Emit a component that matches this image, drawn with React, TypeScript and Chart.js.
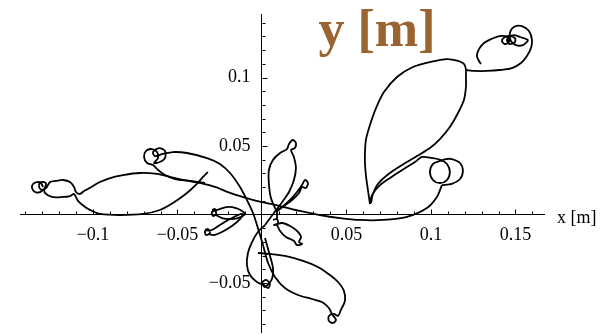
import React, { useEffect, useRef } from "react";
import { Chart, registerables } from "chart.js";

Chart.register(...registerables);

type Pt = [number, number];

// Axis extents in metres
const X_RANGE: [number, number] = [-0.1432, 0.1669];
const Y_RANGE: [number, number] = [-0.0858, 0.1464];

// Labelled (major) ticks; minor ticks every centimetre
const X_LABELED = [-0.1, -0.05, 0.05, 0.1, 0.15];
const Y_LABELED = [-0.05, 0.05, 0.1];
const MINOR_STEP = 0.01;

const X_TITLE = "x [m]";
const Y_TITLE = "y [m]";

// Trajectory pieces, [x, y] in metres
const leftKnot: Pt[] = [
  [-0.1296, 0.0201], [-0.1308, 0.023], [-0.1331, 0.0237], [-0.1355, 0.0223], [-0.1361, 0.0193],
  [-0.1343, 0.0164], [-0.1314, 0.0164], [-0.129, 0.0186], [-0.1278, 0.0223], [-0.129, 0.0237],
  [-0.1314, 0.023], [-0.1319, 0.0201], [-0.1302, 0.0179], [-0.1278, 0.0193], [-0.1254, 0.0237],
  [-0.1219, 0.0245], [-0.1177, 0.0252], [-0.1136, 0.0237], [-0.1112, 0.0201], [-0.1101, 0.0164],
  [-0.1077, 0.015], [-0.1053, 0.0172], [-0.103, 0.0186], [-0.1, 0.0208], [-0.0959, 0.0237],
  [-0.0899, 0.0266], [-0.0822, 0.0288], [-0.0722, 0.0303], [-0.0621, 0.0296], [-0.0544, 0.0274],
  [-0.0467, 0.0252], [-0.0367, 0.023],
];

const crossLine: Pt[] = [
  [-0.0367, 0.023], [-0.0278, 0.0201], [-0.0172, 0.015], [-0.0071, 0.0113], [0, 0.0091],
  [0.0107, 0.0062], [0.0225, 0.0026], [0.0343, -0.0004], [0.0462, -0.0026], [0.058, -0.004],
  [0.0716, -0.004], [0.0858, -0.0018], [0.0976, 0.0047], [0.1035, 0.0128], [0.1065, 0.0215],
];

const rightLoops: Pt[] = [
  [0.1065, 0.0215], [0.1124, 0.0223], [0.1172, 0.0259], [0.1189, 0.0318], [0.1172, 0.0376],
  [0.1124, 0.0405], [0.1089, 0.0405], [0.1053, 0.0391], [0.1012, 0.0369], [0.0994, 0.031],
  [0.1012, 0.0252], [0.1053, 0.023], [0.1095, 0.0252], [0.1112, 0.031], [0.1095, 0.0369],
  [0.1059, 0.0398], [0.1006, 0.0412], [0.0947, 0.042], [0.0905, 0.0383], [0.0858, 0.0347],
  [0.0775, 0.0281], [0.0698, 0.0215], [0.0651, 0.0142], [0.0639, 0.0077],
];

const bigLobe: Pt[] = [
  [0.0639, 0.0077], [0.0627, 0.0179], [0.0615, 0.0288], [0.0609, 0.0398], [0.0615, 0.0544],
  [0.0639, 0.0653], [0.0675, 0.0777], [0.0722, 0.0894], [0.0799, 0.1004], [0.0893, 0.1077],
  [0.0994, 0.1113], [0.1095, 0.1135], [0.116, 0.1121], [0.1195, 0.1099], [0.1207, 0.1062],
  [0.1207, 0.1018], [0.1207, 0.0931], [0.1195, 0.0836], [0.116, 0.0741], [0.1112, 0.0639],
  [0.1053, 0.0551], [0.0994, 0.0485], [0.0917, 0.0427], [0.0858, 0.0383], [0.0757, 0.0303],
  [0.0686, 0.0223], [0.0657, 0.015], [0.0645, 0.0084],
];

const topBulb: Pt[] = [
  [0.1207, 0.1055], [0.126, 0.1048], [0.1331, 0.1048], [0.1408, 0.1055], [0.1479, 0.1069],
  [0.1533, 0.1106], [0.1568, 0.1157], [0.1592, 0.1215], [0.1598, 0.1274], [0.158, 0.134],
  [0.1538, 0.1376], [0.1491, 0.1369], [0.1467, 0.1325], [0.1473, 0.1267], [0.1503, 0.1237],
  [0.1544, 0.1237], [0.1574, 0.1274], [0.1527, 0.1296], [0.1491, 0.131], [0.1462, 0.1296],
  [0.145, 0.1267], [0.1467, 0.1245], [0.1497, 0.1259], [0.1497, 0.1288], [0.1467, 0.1303],
  [0.1438, 0.1296], [0.142, 0.1267], [0.1438, 0.1245], [0.1462, 0.1259], [0.145, 0.1296],
  [0.1408, 0.1303], [0.1355, 0.1281], [0.1314, 0.1252], [0.1284, 0.1208], [0.1272, 0.1157],
  [0.1284, 0.1121], [0.1296, 0.1099],
];

const leftLobeBottom: Pt[] = [
  [-0.129, 0.0186], [-0.1284, 0.0157], [-0.1243, 0.0128], [-0.1177, 0.0128], [-0.1136, 0.0135],
  [-0.1112, 0.015], [-0.1089, 0.0099], [-0.1047, 0.0055], [-0.1006, 0.0026], [-0.0959, 0.0004],
  [-0.084, -0.0004], [-0.0704, 0.0004], [-0.0604, 0.0033], [-0.0527, 0.0084], [-0.0444, 0.0157],
  [-0.0385, 0.0223], [-0.0349, 0.0274], [-0.032, 0.031],
];

const upperLeftArc: Pt[] = [
  [-0.0337, 0.023], [-0.0426, 0.0245], [-0.0515, 0.0259], [-0.0574, 0.0288], [-0.0615, 0.0325],
  [-0.0645, 0.0361], [-0.068, 0.0376], [-0.0698, 0.042], [-0.0686, 0.0464], [-0.0651, 0.0478],
  [-0.0621, 0.0456], [-0.0615, 0.0412], [-0.0639, 0.0376], [-0.0604, 0.0383], [-0.0574, 0.0412],
  [-0.0574, 0.0464], [-0.0609, 0.0485], [-0.0645, 0.0456], [-0.0633, 0.0427], [-0.0586, 0.0442],
  [-0.0527, 0.0456], [-0.0444, 0.0449], [-0.0325, 0.0412], [-0.0249, 0.0369], [-0.0189, 0.0303],
  [-0.013, 0.0201], [-0.0089, 0.0106], [-0.0053, 0.0011], [-0.0024, -0.0099], [0.0006, -0.0223],
  [0.0036, -0.0354], [0.0077, -0.0456], [0.0136, -0.0537], [0.0213, -0.0588], [0.0296, -0.0617],
  [0.0355, -0.0639], [0.0396, -0.0683], [0.0414, -0.0726],
];

const bottomLobe: Pt[] = [
  [0.0414, -0.0726], [0.0438, -0.077], [0.042, -0.0792], [0.0396, -0.0777], [0.0396, -0.0741],
  [0.0426, -0.0726], [0.045, -0.0741], [0.0467, -0.0697], [0.0491, -0.0631], [0.0485, -0.0558],
  [0.045, -0.0493], [0.0402, -0.0442], [0.0331, -0.0383], [0.0243, -0.0339], [0.0136, -0.0303],
  [0.0047, -0.0288], [-0.0024, -0.0281],
];

const centerOval: Pt[] = [
  [0.0083, 0.0033], [0.0053, 0.012], [0.0041, 0.0223], [0.0041, 0.0325], [0.0065, 0.0398],
  [0.0107, 0.0449], [0.0148, 0.0478], [0.016, 0.0515], [0.0183, 0.0544], [0.0201, 0.0522],
  [0.0195, 0.0485], [0.0172, 0.0471], [0.0189, 0.042], [0.0201, 0.0339], [0.0189, 0.0252],
  [0.016, 0.0164], [0.0124, 0.0099], [0.0089, 0.004], [0.0053, -0.0018], [0.0018, -0.0077],
];

const lowerLeftLoop: Pt[] = [
  [0.0018, -0.0077], [-0.0024, -0.0128], [-0.0059, -0.0201], [-0.0083, -0.0281], [-0.0089, -0.0369],
  [-0.0071, -0.0442], [-0.003, -0.0493], [0.0012, -0.0515], [0.0036, -0.0537], [0.0047, -0.0507],
  [0.0024, -0.0478], [0, -0.05], [0.0018, -0.0529], [0.0059, -0.0471], [0.0065, -0.0391],
  [0.0041, -0.0274], [0.0018, -0.0172],
];

const centerLobe: Pt[] = [
  [0.0071, 0.0018], [0.0118, 0.0055], [0.0166, 0.0106], [0.0207, 0.0164], [0.0237, 0.0215],
  [0.0254, 0.0252], [0.0272, 0.023], [0.026, 0.0193], [0.0237, 0.0201], [0.0219, 0.0157],
  [0.0178, 0.0106], [0.013, 0.0062], [0.0083, 0.0018],
];

const leftOvalUpper: Pt[] = [
  [-0.0296, 0.0033], [-0.0278, 0.004], [-0.0272, 0.0004], [-0.029, -0.0011], [-0.0296, 0.0018],
  [-0.0249, 0.004], [-0.0201, 0.0055], [-0.0154, 0.0047], [-0.0118, 0.0026], [-0.0101, 0.0004],
  [-0.0142, -0.0026], [-0.0189, -0.0033], [-0.0237, -0.0026], [-0.0272, -0.0004],
];

const leftOvalLower: Pt[] = [
  [-0.0337, -0.0113], [-0.032, -0.0106], [-0.0308, -0.0135], [-0.0331, -0.015], [-0.0337, -0.012],
  [-0.0296, -0.0113], [-0.0249, -0.0077], [-0.0189, -0.0033], [-0.0142, -0.0004], [-0.0112, 0.0004],
  [-0.013, -0.0033], [-0.0178, -0.0084], [-0.0237, -0.0128], [-0.0284, -0.015], [-0.032, -0.0142],
];

const rightOvalLower: Pt[] = [
  [0.0065, -0.004], [0.0089, -0.0033], [0.0095, -0.0069], [0.0071, -0.0077], [0.0118, -0.0062],
  [0.0166, -0.0084], [0.0207, -0.012], [0.0231, -0.0164], [0.0219, -0.0201], [0.0237, -0.0215],
  [0.0207, -0.0223], [0.0189, -0.0193], [0.0142, -0.0164], [0.0107, -0.012], [0.0089, -0.0077],
];

const centerTick: Pt[] = [
  [0.0089, 0.0018], [0.0089, -0.004],
];

const SEGMENTS: Pt[][] = [
  leftKnot, crossLine, rightLoops, bigLobe, topBulb, leftLobeBottom, upperLeftArc,
  bottomLobe, centerOval, lowerLeftLoop, centerLobe, leftOvalUpper, leftOvalLower,
  rightOvalLower, centerTick,
];

const SERIF = '"Liberation Serif", "Times New Roman", serif';

function fmt(v: number): string {
  return (v < 0 ? "\u2212" : "") + String(Math.abs(v));
}

function labelFor(value: number, list: number[]): string {
  const hit = list.find((t) => Math.abs(t - value) < 1e-6);
  return hit === undefined ? "" : fmt(hit);
}

// Keep the plot box exactly where the layout padding puts it
function noScalePadding(scale: any) {
  scale.paddingLeft = 0;
  scale.paddingRight = 0;
  scale.paddingTop = 0;
  scale.paddingBottom = 0;
}

// Tick marks on the inner side of each axis, y tick labels and axis titles
const axisDecor = {
  id: "axisDecor",
  afterDraw(chart: any) {
    const { ctx, scales } = chart;
    const xs = scales.x;
    const ys = scales.y;
    const x0 = Math.round(xs.getPixelForValue(0)) + 0.5;
    const y0 = Math.round(ys.getPixelForValue(0)) + 0.5;
    ctx.save();
    ctx.strokeStyle = "#000";
    ctx.lineWidth = 1;
    ctx.beginPath();
    const xFirst = Math.ceil(X_RANGE[0] / MINOR_STEP);
    const xLast = Math.floor(X_RANGE[1] / MINOR_STEP);
    for (let i = xFirst; i <= xLast; i++) {
      if (i === 0) continue;
      const len = i % 5 === 0 ? 5 : 3;
      const px = Math.round(xs.getPixelForValue(i * MINOR_STEP)) + 0.5;
      ctx.moveTo(px, y0);
      ctx.lineTo(px, y0 - len);
    }
    const yFirst = Math.ceil(Y_RANGE[0] / MINOR_STEP);
    const yLast = Math.floor(Y_RANGE[1] / MINOR_STEP);
    for (let i = yFirst; i <= yLast; i++) {
      if (i === 0) continue;
      const len = i % 5 === 0 ? 5 : 3;
      const py = Math.round(ys.getPixelForValue(i * MINOR_STEP)) + 0.5;
      ctx.moveTo(x0, py);
      ctx.lineTo(x0 + len, py);
    }
    ctx.stroke();

    ctx.fillStyle = "#000";
    ctx.font = `18px ${SERIF}`;
    ctx.textAlign = "right";
    ctx.textBaseline = "middle";
    for (const v of Y_LABELED) {
      ctx.fillText(fmt(v), x0 - 12, ys.getPixelForValue(v));
    }

    ctx.textAlign = "left";
    ctx.textBaseline = "alphabetic";
    ctx.fillText(X_TITLE, xs.right + 13, y0 + 8);

    ctx.fillStyle = "#9a6431";
    ctx.font = `bold 52px ${SERIF}`;
    ctx.fillText(Y_TITLE, x0 + 56, chart.chartArea.top + 32);
    ctx.restore();
  },
};

export default function App() {
  const ref = useRef<HTMLCanvasElement | null>(null);

  useEffect(() => {
    const canvas = ref.current;
    if (!canvas) return;
    const tickFont = { family: SERIF, size: 18 };
    const chart = new Chart(canvas, {
      type: "scatter",
      data: {
        datasets: SEGMENTS.map((seg) => ({
          data: seg.map(([x, y]) => ({ x, y })),
          showLine: true,
          borderColor: "#000",
          borderWidth: 1.8,
          pointRadius: 0,
          tension: 0.3,
          fill: false,
        })),
      },
      options: {
        animation: false,
        responsive: false,
        devicePixelRatio: 1,
        events: [],
        layout: { padding: { left: 20, right: 68, top: 14, bottom: 2 } },
        plugins: { legend: { display: false }, tooltip: { enabled: false } },
        scales: {
          x: {
            type: "linear",
            min: X_RANGE[0],
            max: X_RANGE[1],
            position: { y: 0 },
            afterFit: noScalePadding,
            grid: { display: false, drawTicks: false },
            border: { display: true, color: "#000", width: 1 },
            ticks: {
              stepSize: 0.05,
              includeBounds: false,
              autoSkip: false,
              maxRotation: 0,
              padding: 10,
              color: "#000",
              font: tickFont,
              callback: (v: any) => labelFor(Number(v), X_LABELED),
            },
          },
          y: {
            type: "linear",
            min: Y_RANGE[0],
            max: Y_RANGE[1],
            position: { x: 0 },
            afterFit: noScalePadding,
            grid: { display: false, drawTicks: false },
            border: { display: true, color: "#000", width: 1 },
            ticks: { display: false, stepSize: 0.05, includeBounds: false },
          },
        },
      },
      plugins: [axisDecor],
    } as any);
    return () => chart.destroy();
  }, []);

  return (
    <div style={{ position: "fixed", left: 0, top: 0, width: 612, height: 334, background: "#fff" }}>
      <canvas ref={ref} width={612} height={334} style={{ display: "block" }} />
    </div>
  );
}
